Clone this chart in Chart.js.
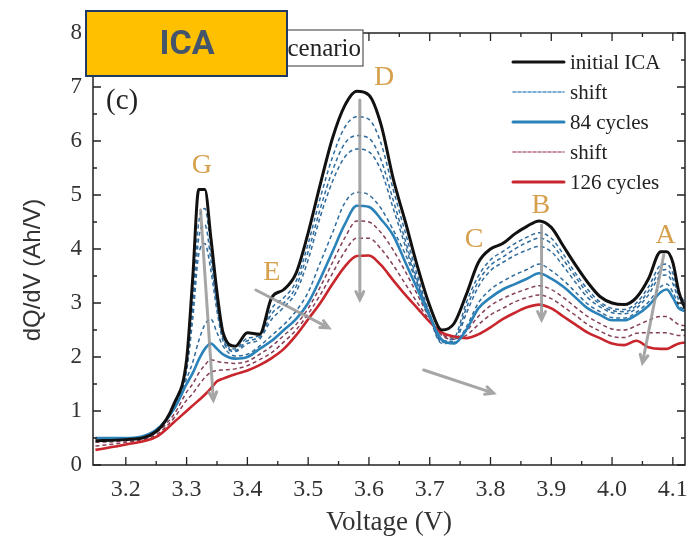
<!DOCTYPE html>
<html>
<head>
<meta charset="utf-8">
<script src="https://cdn.jsdelivr.net/npm/chart.js@4.4.1/dist/chart.umd.min.js"></script>
<style>
  html, body { margin: 0; padding: 0; background: #fff; }
  canvas { display: block; }
</style>
</head>
<body>
<canvas id="chart" width="688" height="537"></canvas>
<script>
// voltage grid (V) and dQ/dV values (Ah/V)
const voltage = [3.15,3.20,3.25,3.28,3.30,3.31,3.32,3.33,3.34,3.35,3.36,3.38,3.40,3.42,3.44,3.46,3.48,3.50,3.52,3.54,3.56,3.58,3.60,3.62,3.64,3.66,3.68,3.70,3.72,3.74,3.76,3.78,3.80,3.82,3.84,3.86,3.88,3.90,3.92,3.94,3.96,3.98,4.00,4.02,4.04,4.06,4.08,4.09,4.10,4.11,4.12];

const initialICA = [0.45,0.47,0.62,1.15,1.95,3.45,5.1,5.1,4.2,3.2,2.45,2.2,2.45,2.42,3.1,3.25,3.55,4.3,5.2,6.05,6.65,6.92,6.85,6.3,5.3,4.5,3.67,2.95,2.5,2.62,3.15,3.75,4.0,4.1,4.28,4.42,4.52,4.4,4.05,3.7,3.38,3.12,3.0,2.97,3.1,3.45,3.95,3.95,3.75,3.2,2.9];
const blueShift1 = [0.5,0.5,0.64,1.1,1.85,3.1,4.5,4.75,4.0,3.05,2.4,2.15,2.35,2.4,2.9,3.1,3.4,4.1,4.95,5.7,6.25,6.45,6.4,5.95,5.1,4.3,3.5,2.8,2.3,2.35,3.0,3.5,3.8,3.95,4.1,4.22,4.3,4.2,3.9,3.55,3.25,3.02,2.9,2.88,3.0,3.3,3.7,3.72,3.55,3.2,3.0];
const blueShift2 = [0.5,0.5,0.64,1.1,1.8,2.9,4.2,4.45,3.8,2.95,2.35,2.12,2.3,2.37,2.8,3.0,3.3,3.95,4.75,5.45,5.95,6.1,6.05,5.65,4.9,4.15,3.4,2.75,2.27,2.3,2.9,3.4,3.7,3.85,4.0,4.12,4.2,4.1,3.8,3.48,3.18,2.98,2.86,2.84,2.95,3.22,3.6,3.62,3.45,3.12,2.97];
const blueShift3 = [0.5,0.5,0.64,1.08,1.75,2.7,3.9,4.1,3.6,2.85,2.3,2.1,2.25,2.33,2.7,2.92,3.2,3.8,4.6,5.25,5.7,5.85,5.8,5.45,4.75,4.05,3.35,2.72,2.25,2.27,2.8,3.3,3.6,3.75,3.88,3.98,4.05,3.95,3.68,3.38,3.1,2.93,2.82,2.8,2.9,3.15,3.5,3.52,3.36,3.05,2.94];
const blueShift4 = [0.5,0.5,0.65,1.06,1.6,1.9,2.3,2.6,2.7,2.45,2.2,2.02,2.05,2.2,2.4,2.6,2.85,3.2,3.75,4.3,4.85,5.05,5.0,4.75,4.35,3.9,3.35,2.8,2.3,2.25,2.55,3.0,3.25,3.4,3.52,3.62,3.72,3.6,3.42,3.2,2.98,2.84,2.73,2.72,2.83,3.02,3.3,3.35,3.2,2.95,2.88];
const cycles84 = [0.5,0.5,0.65,1.05,1.5,1.7,1.95,2.15,2.25,2.15,2.05,1.97,2.0,2.15,2.3,2.5,2.7,3.0,3.45,3.95,4.45,4.8,4.78,4.55,4.25,3.75,3.25,2.75,2.32,2.25,2.5,2.9,3.1,3.25,3.35,3.45,3.55,3.45,3.3,3.1,2.9,2.78,2.68,2.68,2.78,2.95,3.2,3.25,3.1,2.9,2.85];
const redShift1 = [0.42,0.45,0.6,0.95,1.35,1.5,1.7,1.85,1.95,1.92,1.9,1.88,1.92,2.05,2.2,2.4,2.6,2.9,3.3,3.75,4.2,4.52,4.5,4.3,3.98,3.58,3.15,2.72,2.4,2.33,2.48,2.75,2.95,3.08,3.18,3.26,3.32,3.25,3.1,2.92,2.75,2.62,2.52,2.5,2.58,2.68,2.75,2.75,2.68,2.6,2.58];
const redShift2 = [0.35,0.42,0.56,0.88,1.2,1.32,1.48,1.62,1.72,1.75,1.76,1.78,1.84,1.95,2.08,2.28,2.5,2.8,3.15,3.55,3.95,4.2,4.2,4.0,3.7,3.35,3.0,2.68,2.42,2.35,2.4,2.6,2.78,2.9,3.02,3.1,3.15,3.08,2.93,2.77,2.6,2.48,2.38,2.36,2.44,2.45,2.45,2.45,2.42,2.4,2.4];
const cycles126 = [0.28,0.38,0.52,0.8,1.0,1.1,1.2,1.3,1.42,1.55,1.6,1.68,1.75,1.85,1.98,2.15,2.4,2.7,3.0,3.35,3.67,3.87,3.88,3.7,3.42,3.15,2.9,2.65,2.45,2.38,2.35,2.42,2.55,2.7,2.82,2.92,2.97,2.9,2.75,2.6,2.45,2.35,2.25,2.22,2.3,2.18,2.15,2.15,2.2,2.25,2.27];

const xTicks = [3.2,3.3,3.4,3.5,3.6,3.7,3.8,3.9,4.0,4.1];
const xMinorTicks = [3.25,3.35,3.45,3.55,3.65,3.75,3.85,3.95,4.05];
const yTicks = [0,1,2,3,4,5,6,7,8];
const yMinorTicks = [0.5,1.5,2.5,3.5,4.5,5.5,6.5,7.5];

const peakLetters = ['G','D','E','C','B','A'];

const serif = '"Liberation Serif", "DejaVu Serif", serif';
const toPoints = arr => voltage.map((v, i) => ({ x: v, y: arr[i] }));

function line(label, arr, color, width, dash, legend) {
    return {
        label: label,
        data: toPoints(arr),
        borderColor: color,
        backgroundColor: color,
        borderWidth: width,
        borderDash: dash || [],
        pointRadius: 0,
        cubicInterpolationMode: 'monotone',
        fill: false,
        inLegend: legend
    };
}

const BLUE_DASH = '#2f6b9c';
const RED_DASH = '#844058';

const datasets = [
    line('initial ICA', initialICA, '#111111', 3, null, 0),
    line('84 cycles', cycles84, '#2b82b8', 2.6, null, 2),
    line('126 cycles', cycles126, '#c8262c', 2.6, null, 4),
    line('shift', blueShift1, BLUE_DASH, 1.5, [4, 3], 1),
    line('shift', blueShift2, BLUE_DASH, 1.5, [4, 3], -1),
    line('shift', blueShift3, BLUE_DASH, 1.5, [4, 3], -1),
    line('shift', blueShift4, BLUE_DASH, 1.5, [4, 3], -1),
    line('shift', redShift1, RED_DASH, 1.5, [4, 3], 3),
    line('shift', redShift2, RED_DASH, 1.5, [4, 3], -1)
];

// annotation positions, in data units
const letterPos = { G: [3.325, 5.55], D: [3.625, 7.17], E: [3.44, 3.57], C: [3.773, 4.17], B: [3.883, 4.8], A: [4.088, 4.24] };
const arrows = [
    [[3.323, 4.72], [3.344, 1.2]],
    [[3.414, 3.24], [3.534, 2.54]],
    [[3.585, 6.76], [3.585, 3.06]],
    [[3.69, 1.76], [3.805, 1.33]],
    [[3.884, 4.44], [3.884, 2.69]],
    [[4.085, 3.89], [4.05, 1.89]]
];

const decor = {
    id: 'decor',
    afterDatasetsDraw(chart) {
        const { ctx, chartArea: a, scales: { x, y } } = chart;
        ctx.save();
        // frame
        ctx.strokeStyle = '#222';
        ctx.lineWidth = 1.5;
        ctx.strokeRect(a.left, a.top, a.right - a.left, a.bottom - a.top);
        // inward ticks
        ctx.lineWidth = 1.3;
        ctx.beginPath();
        const tx = (v, len) => {
            const px = x.getPixelForValue(v);
            ctx.moveTo(px, a.bottom); ctx.lineTo(px, a.bottom - len);
            ctx.moveTo(px, a.top); ctx.lineTo(px, a.top + len);
        };
        const ty = (v, len) => {
            const py = y.getPixelForValue(v);
            ctx.moveTo(a.left, py); ctx.lineTo(a.left + len, py);
            ctx.moveTo(a.right, py); ctx.lineTo(a.right - len, py);
        };
        xTicks.forEach(v => tx(v, 8));
        xMinorTicks.forEach(v => tx(v, 4));
        yTicks.forEach(v => ty(v, 8));
        yMinorTicks.forEach(v => ty(v, 4));
        ctx.stroke();

        // gray arrows
        ctx.strokeStyle = 'rgba(150,150,150,0.85)';
        ctx.lineWidth = 3;
        ctx.lineCap = 'round';
        arrows.forEach(([p, q]) => {
            const x0 = x.getPixelForValue(p[0]), y0 = y.getPixelForValue(p[1]);
            const x1 = x.getPixelForValue(q[0]), y1 = y.getPixelForValue(q[1]);
            const ang = Math.atan2(y1 - y0, x1 - x0);
            ctx.beginPath();
            ctx.moveTo(x0, y0); ctx.lineTo(x1, y1);
            ctx.moveTo(x1 - 9 * Math.cos(ang - 0.45), y1 - 9 * Math.sin(ang - 0.45));
            ctx.lineTo(x1, y1);
            ctx.lineTo(x1 - 9 * Math.cos(ang + 0.45), y1 - 9 * Math.sin(ang + 0.45));
            ctx.stroke();
        });

        // peak letters
        ctx.fillStyle = '#d6a04c';
        ctx.font = '28px ' + serif;
        ctx.textAlign = 'center';
        ctx.textBaseline = 'middle';
        peakLetters.forEach(k => {
            const [v, q] = letterPos[k];
            ctx.fillText(k, x.getPixelForValue(v), y.getPixelForValue(q));
        });

        // panel label
        ctx.fillStyle = '#222';
        ctx.font = '29px ' + serif;
        ctx.textAlign = 'left';
        ctx.fillText('(c)', a.left + 13, a.top + 68);

        // legend
        ctx.font = '21px ' + serif;
        const items = chart.data.datasets.filter(d => d.inLegend >= 0).sort((m, n) => m.inLegend - n.inLegend);
        items.forEach((d, i) => {
            const ly = a.top + 29 + i * 30;
            ctx.strokeStyle = d.borderDash.length ? (d.borderColor === BLUE_DASH ? '#4f93c8' : '#b86a80') : d.borderColor;
            ctx.lineWidth = d.borderDash.length ? 1.6 : 3;
            ctx.setLineDash(d.borderDash.length ? [3, 2] : []);
            ctx.beginPath();
            ctx.moveTo(a.right - 172, ly); ctx.lineTo(a.right - 121, ly);
            ctx.stroke();
            ctx.setLineDash([]);
            ctx.fillStyle = '#222';
            ctx.fillText(d.label, a.right - 115, ly + 1);
        });

        // y axis title (drawn here so it can sit where the original has it)
        ctx.save();
        ctx.translate(33, 270);
        ctx.rotate(-Math.PI / 2);
        ctx.textAlign = 'center';
        ctx.fillStyle = '#333';
        ctx.font = '24px "Liberation Sans", Arial, sans-serif';
        ctx.fillText('dQ/dV (Ah/V)', 0, 0);
        ctx.restore();
        ctx.restore();
    },
    afterDraw(chart) {
        const { ctx, chartArea: a } = chart;
        ctx.save();
        // partly hidden scenario box
        ctx.fillStyle = '#fff';
        ctx.fillRect(a.left + 110, a.top - 3, 160, 36);
        ctx.strokeStyle = '#555';
        ctx.lineWidth = 1.2;
        ctx.strokeRect(a.left + 110, a.top - 3, 160, 36);
        ctx.fillStyle = '#222';
        ctx.font = '25px ' + serif;
        ctx.textAlign = 'right';
        ctx.textBaseline = 'middle';
        ctx.fillText('Aging scenario', a.left + 268, a.top + 16);
        // ICA badge
        ctx.fillStyle = '#ffc000';
        ctx.fillRect(86, 11, 201, 65);
        ctx.strokeStyle = '#1f3864';
        ctx.lineWidth = 2;
        ctx.strokeRect(86, 11, 201, 65);
        ctx.fillStyle = '#44546a';
        ctx.font = 'bold 34px "Liberation Sans Narrow", "Roboto", sans-serif';
        ctx.textAlign = 'center';
        ctx.fillText('ICA', 187, 45);
        ctx.restore();
    }
};

new Chart(document.getElementById('chart').getContext('2d'), {
    type: 'line',
    data: { datasets: datasets },
    options: {
        responsive: false,
        animation: false,
        devicePixelRatio: 1,
        layout: { padding: { top: 33, right: 3, left: 0, bottom: 0 } },
        plugins: { legend: { display: false }, tooltip: { enabled: false } },
        scales: {
            x: {
                type: 'linear',
                min: 3.146,
                max: 4.12,
                afterBuildTicks: s => { s.ticks = xTicks.map(v => ({ value: v })); },
                afterFit: s => { s.height = 72; s.paddingLeft = 0; s.paddingRight = 0; },
                grid: { display: false, drawTicks: false },
                border: { display: false },
                ticks: {
                    callback: v => v.toFixed(1),
                    font: { family: serif, size: 24 },
                    color: '#333',
                    padding: 10,
                    maxRotation: 0,
                    autoSkip: false
                },
                title: { display: true, text: 'Voltage (V)', font: { family: serif, size: 27 }, color: '#333', padding: { top: 0, bottom: -2 } }
            },
            y: {
                min: 0,
                max: 8,
                afterBuildTicks: s => { s.ticks = yTicks.map(v => ({ value: v })); },
                afterFit: s => { s.width = 93; s.paddingTop = 0; s.paddingBottom = 0; },
                grid: { display: false, drawTicks: false },
                border: { display: false },
                ticks: {
                    font: { family: serif, size: 23 },
                    color: '#333',
                    padding: 11
                },
                title: { display: false }
            }
        }
    },
    plugins: [decor]
});
</script>
</body>
</html>
